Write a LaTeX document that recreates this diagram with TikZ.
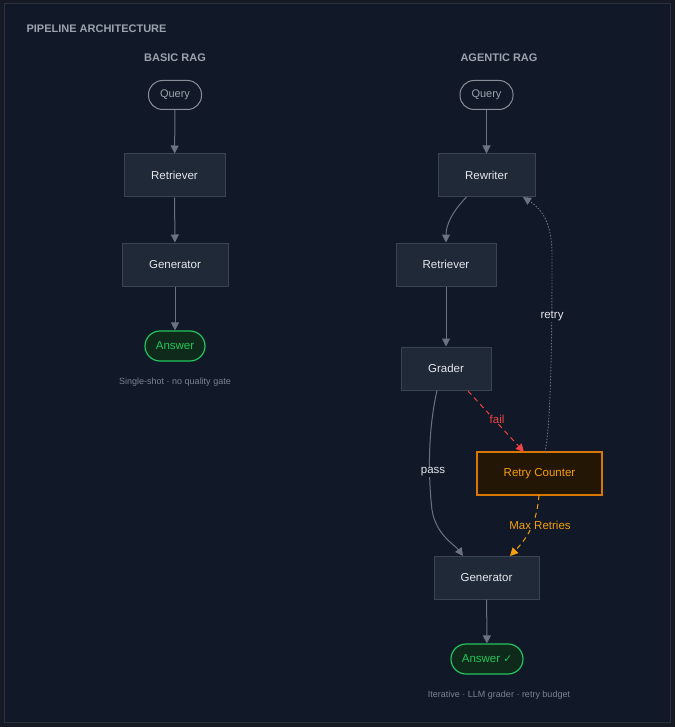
\documentclass[tikz,border=0pt]{standalone}
\usepackage{fontspec}
\setmainfont{Liberation Sans}
\newfontfamily\dvs{DejaVu Sans}
\usetikzlibrary{arrows.meta}
\definecolor{pagebg}{HTML}{161A24}
\definecolor{panel}{HTML}{111827}
\definecolor{panelline}{HTML}{2A303C}
\definecolor{boxfill}{HTML}{1F2937}
\definecolor{boxline}{HTML}{3B4452}
\definecolor{edge}{HTML}{6B7280}
\definecolor{txt}{HTML}{E5E7EB}
\definecolor{muted}{HTML}{9CA3AF}
\definecolor{capc}{HTML}{7B8494}
\definecolor{grn}{HTML}{22C55E}
\definecolor{grnfill}{HTML}{0F2A1A}
\definecolor{org}{HTML}{F59E0B}
\definecolor{orgline}{HTML}{D97706}
\definecolor{orgfill}{HTML}{241604}
\definecolor{redc}{HTML}{EF4444}
\begin{document}
\begin{tikzpicture}[x=1pt,y=-1pt,
 box/.style={draw=boxline,fill=boxfill,line width=1pt,text=txt,font=\fontsize{11.5}{13}\selectfont,minimum height=43pt,inner sep=0pt},
 pill/.style={draw=edge!80,fill=panel,rounded corners=14pt,line width=1pt,text=muted,minimum height=29pt,inner sep=0pt,font=\fontsize{11}{12}\selectfont},
 ans/.style={draw=grn,fill=grnfill,rounded corners=15pt,line width=1.2pt,text=grn,minimum height=30pt,inner sep=0pt,font=\fontsize{11.5}{13}\selectfont},
 hdr/.style={text=muted,font=\bfseries\fontsize{11}{12}\selectfont},
 captxt/.style={text=capc,font=\fontsize{9}{10}\selectfont},
 lab/.style={font=\fontsize{11.5}{13}\selectfont,fill=panel,inner sep=1pt},
 arr/.style={draw=edge,line width=1pt,-{Triangle[width=8pt,length=8pt]}}]
\useasboundingbox (0,0) rectangle (675,727);
\fill[pagebg] (0,0) rectangle (675,727);
\draw[panelline,fill=panel,line width=1pt] (4,4) rectangle (670,722);
\node[hdr,anchor=west] (title) at (23,29) {PIPELINE ARCHITECTURE};
\node[hdr] (h1) at (175,58) {BASIC RAG};
\node[hdr] (h2) at (499,58) {AGENTIC RAG};
% basic
\node[pill,minimum width=53pt] (bq) at (175,95) {Query};
\node[box,minimum width=101pt] (bret) at (174.5,175.5) {Retriever};
\node[box,minimum width=106pt] (bgen) at (175,264.5) {Generator};
\node[ans,minimum width=60pt] (bans) at (175,346) {Answer};
\node[captxt] (c1) at (175,382) {Single-shot · no quality gate};
\draw[arr] (bq) -- (bret);
\draw[arr] (bret) -- (bgen);
\draw[arr] (bgen) -- (bans);
% agentic
\node[pill,minimum width=53pt] (aq) at (486.5,95) {Query};
\node[box,minimum width=97pt] (rw) at (486.5,175.5) {Rewriter};
\node[box,minimum width=100pt] (aret) at (446,264.5) {Retriever};
\node[box,minimum width=90pt] (gr) at (446,368.5) {Grader};
\node[box,minimum width=125pt,draw=orgline,fill=orgfill,text=org,line width=1.3pt] (rc) at (539.5,473.5) {Retry Counter};
\node[box,minimum width=105pt] (agen) at (486.5,577.5) {Generator};
\node[ans,minimum width=72pt] (aans) at (487,659) {Answer {\dvs\fontsize{10.5}{12}\selectfont ✓}};
\node[captxt] (c2) at (499,695) {Iterative · LLM grader · retry budget};
\draw[arr] (aq) -- (rw);
\coordinate (rws) at (466.5,197);
\draw[arr] (rws) .. controls (452,212) and (446,225) .. (aret.north);
\draw[arr] (aret) -- (gr);
\draw[arr] (agen) -- (aans);
\coordinate (grs) at (437,390.5);
\coordinate (gnt) at (463,556);
\draw[arr] (grs) .. controls (428,430) and (428,475) .. (432,510) .. controls (436,535) and (455,545) .. (gnt);
\node[lab,text=txt] (lp) at (433,472) {pass};
\coordinate (grf) at (468,391);
\coordinate (rcf) at (524,452);
\draw[arr,draw=redc,dash pattern=on 5pt off 4pt] (grf) -- (rcf);
\node[lab,text=redc] (lf) at (497,419) {fail};
\coordinate (rcb) at (539,495);
\coordinate (gnm) at (510,556);
\draw[arr,draw=org,dash pattern=on 5pt off 4pt] (rcb) .. controls (537,520) and (530,535) .. (gnm);
\node[lab,text=org] (lm) at (540,525) {Max Retries};
\coordinate (rct) at (545,452);
\coordinate (rwb) at (523,197);
\draw[arr,dash pattern=on 1.5pt off 1.5pt,line width=0.9pt] (rct) .. controls (552,420) and (552,300) .. (552,255) .. controls (552,220) and (540,208) .. (rwb);
\node[lab,text=txt] (lr) at (552,316) {retry};
\end{tikzpicture}
\end{document}
